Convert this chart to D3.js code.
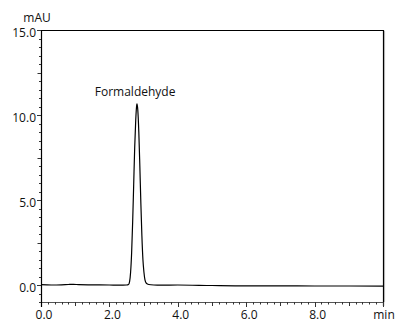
<!DOCTYPE html>
<html>
<head>
<meta charset="utf-8">
<script src="https://cdn.jsdelivr.net/npm/d3@7"></script>
<style>
  body { margin: 0; background: #fff; }
  text { font-family: "Open Sans", sans-serif; font-size: 12px; fill: #111; }
</style>
</head>
<body>
<div id="chart"></div>
<script>
// Chromatogram trace, time in min, signal in mAU
const traceTime = [0.0, 0.3, 0.6, 0.8, 0.95, 1.1, 1.5, 2.0, 2.3, 2.5,
  2.56, 2.59, 2.62, 2.65, 2.68, 2.71, 2.74, 2.77, 2.80, 2.81, 2.83, 2.86, 2.89,
  2.92, 2.95, 2.98, 3.01, 3.04, 3.08, 3.15, 3.3,
  3.5, 4.0, 5.0, 6.0, 7.0, 8.0, 9.0, 10.0];
const traceSignal = [0.02, 0.0, 0.01, 0.03, 0.04, 0.02, 0.01, 0.0, -0.01, 0.0,
  0.03, 0.2, 0.75, 1.9, 3.7, 5.9, 8.1, 9.7, 10.6, 10.65, 10.3, 9.0, 7.0,
  4.8, 2.9, 1.5, 0.75, 0.3, 0.1, 0.03, 0.0,
  -0.01, 0.0, -0.03, -0.05, -0.05, -0.06, -0.06, -0.07];

const peakLabels = [{ name: "Formaldehyde", time: 2.81, signal: 10.65 }];

const xTickValues = [0, 2, 4, 6, 8];
const xTickLabels = ["0.0", "2.0", "4.0", "6.0", "8.0"];
const yTickValues = [0, 5, 10, 15];
const yTickLabels = ["0.0", "5.0", "10.0", "15.0"];

const width = 395, height = 322;
const margin = { top: 30, right: 12, bottom: 20, left: 41 };
const innerW = width - margin.left - margin.right;
const innerH = height - margin.top - margin.bottom;

const svg = d3.select("#chart").append("svg")
  .attr("width", width)
  .attr("height", height);

const g = svg.append("g")
  .attr("transform", `translate(${margin.left},${margin.top})`);

const x = d3.scaleLinear().domain([0, 10]).range([0, innerW]);
const y = d3.scaleLinear().domain([-1, 15]).range([innerH, 0]);

// frame: top and right border, right one with a light shadow
g.append("line")
  .attr("x1", innerW + 1.5).attr("x2", innerW + 1.5)
  .attr("y1", 1).attr("y2", innerH)
  .attr("stroke", "#c8c8c8").attr("stroke-width", 1.2);
g.append("line")
  .attr("x1", 0).attr("x2", innerW)
  .attr("y1", 0.5).attr("y2", 0.5)
  .attr("stroke", "#000").attr("stroke-width", 1.2);
g.append("line")
  .attr("x1", innerW + 0.5).attr("x2", innerW + 0.5)
  .attr("y1", 0).attr("y2", innerH + 4)
  .attr("stroke", "#000").attr("stroke-width", 1.2);

// x axis with minor ticks
const xAxis = g.append("g").attr("transform", `translate(0,${innerH})`);
xAxis.append("line")
  .attr("x1", 0).attr("x2", innerW)
  .attr("y1", 0.5).attr("y2", 0.5)
  .attr("stroke", "#555").attr("stroke-width", 1);
xAxis.selectAll("line.tick")
  .data(d3.range(0, 10.001, 0.2))
  .join("line")
  .attr("class", "tick")
  .attr("x1", d => Math.round(x(d)) + 0.5)
  .attr("x2", d => Math.round(x(d)) + 0.5)
  .attr("y1", 0)
  .attr("y2", (d, i) => i % 10 === 0 ? 5 : i % 5 === 0 ? 4 : 2.5)
  .attr("stroke", "#333").attr("stroke-width", 1);
xAxis.selectAll("text.lbl")
  .data(xTickValues)
  .join("text")
  .attr("class", "lbl")
  .attr("x", d => x(d) + 3)
  .attr("y", 16.5)
  .attr("text-anchor", "middle")
  .text((d, i) => xTickLabels[i]);
xAxis.append("text")
  .attr("x", innerW + 1)
  .attr("y", 16.5)
  .attr("text-anchor", "middle")
  .text("min");

// y axis with minor ticks
const yAxis = g.append("g");
yAxis.append("line")
  .attr("x1", 0.5).attr("x2", 0.5)
  .attr("y1", 0).attr("y2", innerH + 5)
  .attr("stroke", "#000").attr("stroke-width", 1.2);
yAxis.selectAll("line.tick")
  .data(d3.range(-1, 15.001, 0.5))
  .join("line")
  .attr("class", "tick")
  .attr("y1", d => Math.round(y(d)) + 0.5)
  .attr("y2", d => Math.round(y(d)) + 0.5)
  .attr("x1", 0)
  .attr("x2", d => Math.abs(d % 5) < 1e-6 ? -4 : Math.abs(d % 2.5) < 1e-6 ? -3.5 : -2)
  .attr("stroke", "#333").attr("stroke-width", 1);
yAxis.selectAll("text.lbl")
  .data(yTickValues)
  .join("text")
  .attr("class", "lbl")
  .attr("x", -5)
  .attr("y", d => y(d) + 7)
  .attr("text-anchor", "end")
  .text((d, i) => yTickLabels[i]);
g.append("text")
  .attr("x", -4)
  .attr("y", -8)
  .attr("text-anchor", "middle")
  .text("mAU");

// trace
const trace = traceTime.map((t, i) => [t, traceSignal[i]]);
const line = d3.line()
  .x(d => x(d[0]))
  .y(d => y(d[1]))
  .curve(d3.curveMonotoneX);
g.append("path")
  .datum(trace)
  .attr("fill", "none")
  .attr("stroke", "#000")
  .attr("stroke-width", 1.2)
  .attr("d", line);

// peak annotation
g.selectAll("text.peak")
  .data(peakLabels)
  .join("text")
  .attr("class", "peak")
  .attr("x", d => x(d.time) - 2)
  .attr("y", d => y(d.signal) - 8)
  .attr("text-anchor", "middle")
  .text(d => d.name);
</script>
</body>
</html>
